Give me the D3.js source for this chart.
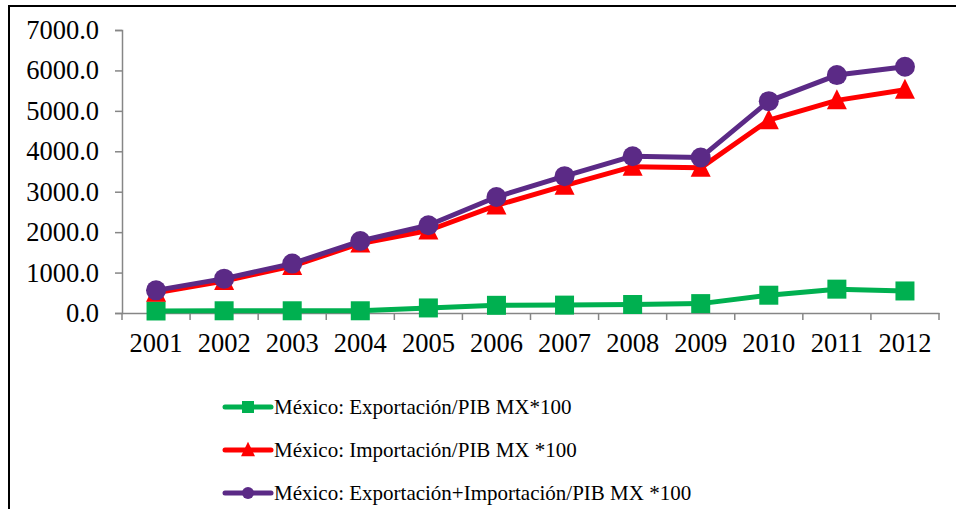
<!DOCTYPE html>
<html>
<head>
<meta charset="utf-8">
<script src="https://cdn.jsdelivr.net/npm/d3@7"></script>
<style>
  html, body { margin: 0; padding: 0; background: #fff; }
  svg { display: block; }
  text { font-family: "Liberation Serif", "Times New Roman", serif; fill: #000; }
</style>
</head>
<body>
<svg id="chart" width="956" height="509"></svg>
<script>
// Years on the horizontal axis
const years = ["2001","2002","2003","2004","2005","2006","2007","2008","2009","2010","2011","2012"];
// México: Exportación/PIB MX*100
const exportacion = [50, 55, 55, 55, 125, 190, 195, 210, 232, 440, 590, 545];
// México: Importación/PIB MX *100
const importacion = [500, 790, 1160, 1720, 2040, 2660, 3150, 3620, 3590, 4770, 5260, 5520];
// México: Exportación+Importación/PIB MX *100
const total = [560, 850, 1222, 1780, 2170, 2870, 3385, 3878, 3845, 5240, 5885, 6090];
// Y axis ticks
const yTicks = [0, 1000, 2000, 3000, 4000, 5000, 6000, 7000];

const seriesNames = [
  "México: Exportación/PIB MX*100",
  "México: Importación/PIB MX *100",
  "México: Exportación+Importación/PIB MX *100"
];

const series = [
  { name: seriesNames[0], values: exportacion, color: "#00B050", marker: "square" },
  { name: seriesNames[1], values: importacion, color: "#FF0000", marker: "triangle" },
  { name: seriesNames[2], values: total, color: "#5B2A86", marker: "circle" }
];

const svg = d3.select("#chart");

// outer frame
svg.append("rect")
  .attr("x", 9).attr("y", 6)
  .attr("width", 960).attr("height", 520)
  .attr("fill", "none").attr("stroke", "#000").attr("stroke-width", 2);

const plot = { left: 122, right: 939, top: 30, bottom: 313 };

const x = d3.scaleBand().domain(years).range([plot.left, plot.right]).paddingInner(0).paddingOuter(0);
const y = d3.scaleLinear().domain([0, 7000]).range([plot.bottom, plot.top]);

const axisColor = "#868686";

// Y axis
const yAxis = svg.append("g")
  .attr("transform", `translate(${plot.left},0)`)
  .call(d3.axisLeft(y).tickValues(yTicks).tickFormat(d3.format(".1f")).tickSize(7).tickPadding(16));
yAxis.select(".domain").attr("stroke", axisColor).attr("stroke-width", 1.5);
yAxis.selectAll(".tick line").attr("stroke", axisColor).attr("stroke-width", 1.5);
yAxis.selectAll(".tick text")
  .style("font-family", "'Liberation Serif', serif")
  .style("font-size", "26.5px");

// X axis: line with ticks on category boundaries
const xAxis = svg.append("g")
  .attr("transform", `translate(0,${plot.bottom})`)
  .call(d3.axisBottom(x).tickSize(0).tickPadding(20));
xAxis.select(".domain").attr("stroke", axisColor).attr("stroke-width", 1.5);
xAxis.selectAll(".tick text")
  .style("font-family", "'Liberation Serif', serif")
  .style("font-size", "26.5px");
const bounds = years.map(d => x(d)).concat([x(years[years.length - 1]) + x.bandwidth()]);
xAxis.selectAll("line.bound")
  .data(bounds)
  .enter().append("line")
  .attr("class", "bound")
  .attr("x1", d => d).attr("x2", d => d)
  .attr("y1", 0).attr("y2", 7)
  .attr("stroke", axisColor).attr("stroke-width", 1.5);

const cx = d => x(d) + x.bandwidth() / 2;

const line = d3.line()
  .x((v, i) => cx(years[i]))
  .y(v => y(v));

function drawMarker(g, type, px, py, size, color) {
  if (type === "square") {
    g.append("rect")
      .attr("x", px - size / 2).attr("y", py - size / 2)
      .attr("width", size).attr("height", size)
      .attr("fill", color);
  } else if (type === "circle") {
    g.append("circle")
      .attr("cx", px).attr("cy", py).attr("r", size / 2)
      .attr("fill", color);
  } else if (type === "triangle") {
    const h = size * 0.9;
    g.append("path")
      .attr("d", `M${px},${py - h / 2 - 2}L${px + size / 2},${py + h / 2}L${px - size / 2},${py + h / 2}Z`)
      .attr("fill", color);
  }
}

// Lines and markers
series.forEach(s => {
  const g = svg.append("g");
  g.append("path")
    .datum(s.values)
    .attr("d", line)
    .attr("fill", "none")
    .attr("stroke", s.color)
    .attr("stroke-width", 5)
    .attr("stroke-linejoin", "round");
  s.values.forEach((v, i) => {
    const size = s.marker === "square" ? 19 : 20;
    drawMarker(g, s.marker, cx(years[i]), y(v), size, s.color);
  });
});

// Legend
const legendY = [407, 450, 493];
series.forEach((s, i) => {
  const g = svg.append("g").attr("transform", `translate(0,${legendY[i]})`);
  g.append("line")
    .attr("x1", 225).attr("x2", 271)
    .attr("y1", 0).attr("y2", 0)
    .attr("stroke", s.color).attr("stroke-width", 5)
    .attr("stroke-linecap", "round");
  drawMarker(g, s.marker, 248, 0, s.marker === "triangle" ? 14 : 12, s.color);
  g.append("text")
    .attr("x", 274).attr("y", 0)
    .attr("dy", "0.33em")
    .style("font-size", "21px")
    .text(s.name);
});
</script>
</body>
</html>
